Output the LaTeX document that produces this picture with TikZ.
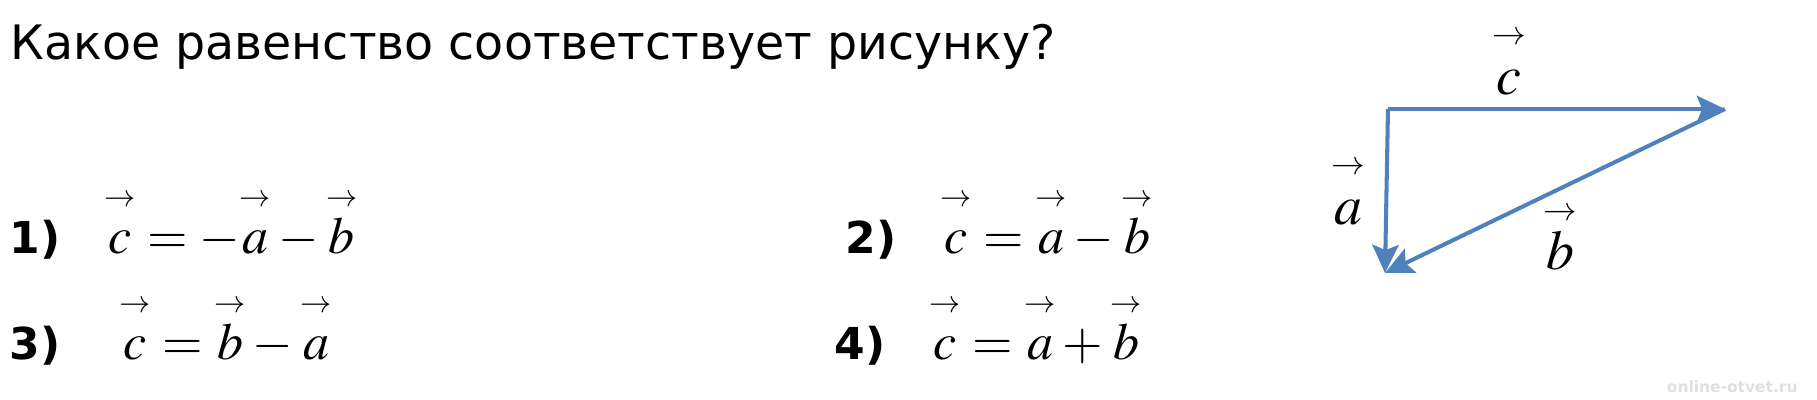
\documentclass[tikz,border=0pt]{standalone}
\usepackage{mathptmx}
\usepackage[no-math]{fontspec}
\setmainfont{DejaVu Sans}
\usepackage{tikz}
\usetikzlibrary{arrows.meta}

\definecolor{vecblue}{RGB}{79,129,189}
\newcommand{\vect}[1]{\mathord{\stackrel{\scriptscriptstyle\rightarrow}{#1\vphantom{b}}}}

\begin{document}
\begin{tikzpicture}[x=0.01cm,y=-0.01cm,>={Stealth[length=8pt,width=7.5pt,inset=1.5pt]},auto]
  \tikzstyle{question}=[font=\fontsize{13.5pt}{16pt}\selectfont,anchor=base west,inner sep=0pt]
  \tikzstyle{number}=[font=\fontsize{12.5pt}{15pt}\selectfont\bfseries,anchor=base west,inner sep=0pt]
  \tikzstyle{answer}=[font=\fontsize{14.8pt}{18pt}\selectfont,anchor=base west,inner sep=0pt]
  \tikzstyle{vec}=[->,color=vecblue,line width=1.15pt]
  \tikzstyle{veclabel}=[font=\fontsize{15.9pt}{18pt}\selectfont,text=black]

  \useasboundingbox (0,0) rectangle (1817,400);

  \node[question] (Q)  at (10,59)   {Какое равенство соответствует рисунку?};

  \node[number]   (N1) at (9,253)   {1)};
  \node[answer]   (E1) at (104,253) {$\vect{c}=-\vect{a}-\vect{b}$};
  \node[number]   (N2) at (845,253) {2)};
  \node[answer]   (E2) at (940,253) {$\vect{c}=\vect{a}-\vect{b}$};
  \node[number]   (N3) at (9,359)   {3)};
  \node[answer]   (E3) at (119,359) {$\vect{c}=\vect{b}-\vect{a}$};
  \node[number]   (N4) at (834,359) {4)};
  \node[answer]   (E4) at (929,359) {$\vect{c}=\vect{a}+\vect{b}$};

  \coordinate (O) at (1388,109);
  \coordinate (C) at (1725,109);
  \coordinate (A) at (1385,273);

  \path (O) edge[vec] node[veclabel,pos=0.36]                {$\vect{c}$} (C)
        (O) edge[vec] node[veclabel,swap,xshift=-0.08cm]     {$\vect{a}$} (A)
        (C) edge[vec] node[veclabel,pos=0.485,below]         {$\vect{b}$} (A);

  \node[font=\fontsize{4.4pt}{5pt}\selectfont\bfseries,text=gray!25,anchor=base east] (W) at (1810,392) {online-otvet.ru};
\end{tikzpicture}
\end{document}
